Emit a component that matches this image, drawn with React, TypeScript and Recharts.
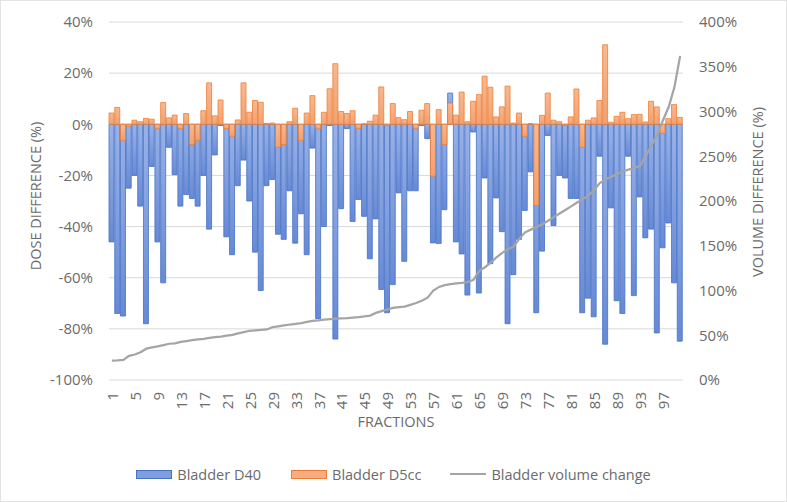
import React from 'react';
import { ComposedChart, Bar, Line, XAxis, YAxis, CartesianGrid, Legend, Label } from 'recharts';

// fraction numbers 1..100 (category labels)
const fractions = Array.from({ length: 100 }, (_, i) => String(i + 1));

// dose difference, %
const bladderD40 = [
  -46, -74, -75, -25, -20, -32, -78, -16.5, -46, -62,
  -9, -19.7, -32, -27.5, -29, -32, -20, -41, -12, -0.5,
  -44, -51, -24, -14, -30, -50, -65, -24, -21.6, -43,
  -45, -26, -46.5, -35, -51, -9.3, -76, -40, -0.5, -84,
  -33, -1.7, -38, -29.4, -36, -52.6, -37, -64.6, -73.7, -62.7,
  -26.8, -53.6, -26, -26, -0.5, -5.6, -46.4, -46.6, -33.4, 12.2,
  -46, -50.7, -66.8, -3, -66, -21, -54.5, -28.8, -42, -78,
  -58.8, -45, -33.7, -18.6, -73.7, -49.6, -4.4, -39.6, -20, -21,
  -29, -29, -73.7, -68, -75.3, -12.5, -86, -32.7, -69, -74,
  -12.5, -67, -28.4, -44.4, -41, -81.6, -48.3, -38.6, -62, -84.8,
];

const bladderD5cc = [
  4.4, 6.6, -6.3, -0.8, 1.6, 1.0, 2.3, 2.0, -1.7, 8.5,
  2.5, 3.6, -1.7, 4.2, -7.9, -6.3, 5.3, 16.2, 3.3, 9.5,
  -1.7, -4.7, 1.7, 16.2, 4.7, 9.3, 8.6, 0.3, 0.5, -9.0,
  -7.9, 1.0, 6.3, -6.3, 4.4, 11.2, -1.8, 4.7, 13.9, 23.7,
  5.0, 4.2, 5.3, -1.7, 0.2, 1.2, 3.6, 14.6, -0.5, 8.1,
  2.6, 1.8, 5.0, -1.7, 5.5, 8.1, -20.3, 5.7, -7.9, 8.3,
  3.6, 12.6, 1.0, 9.0, 11.6, 18.8, 14.5, 2.9, 6.8, 14.9,
  0.5, 4.4, -4.7, 0.3, -31.7, 3.5, 12.2, 1.6, 1.0, -0.5,
  2.9, 13.8, -9.0, 1.6, 2.5, 9.3, 31.1, 0.8, 3.1, 4.7,
  2.2, 3.8, 3.9, 0.9, 9.0, 6.8, -3.6, 2.2, 7.7, 2.7,
];

// volume difference, %
const volumeChange = [
  21.6, 21.8, 22.5, 27, 28.5, 31, 35, 36.5, 37.5, 39,
  40.5, 41, 42.5, 43.5, 44.5, 45.5, 46, 47, 48, 48.5,
  49.5, 50.5, 52, 53.5, 55, 55.5, 56, 56.5, 59, 60,
  61, 62, 62.6, 63.5, 65, 66, 66.5, 67.5, 68, 68.5,
  68.8, 69.2, 69.8, 70.3, 71, 72, 75, 77, 79, 80.5,
  81.5, 82, 84, 86, 88.5, 92, 100, 104, 106, 107,
  108, 108.5, 109.5, 112, 122, 126, 131, 137, 142, 146,
  149, 158, 165, 168, 171, 174, 178, 182, 186, 190,
  194, 198, 202, 206, 212, 220, 224, 227, 230, 233,
  235, 237, 239, 250, 262, 274, 290, 305, 327, 362,
];

const doseTicks = [-100, -80, -60, -40, -20, 0, 20, 40];
const volumeTicks = [0, 50, 100, 150, 200, 250, 300, 350, 400];

const data = fractions.map((f, i) => ({
  fraction: f,
  d40: bladderD40[i],
  d5cc: bladderD5cc[i],
  volume: volumeChange[i],
}));

const FONT = '"Open Sans", sans-serif';
const TEXT = '#6b6b6b';

const FractionTick = ({ x, y, payload }: any) => (
  <text
    x={x}
    y={y}
    dx={-10}
    transform={`rotate(-90, ${x}, ${y})`}
    textAnchor="end"
    dominantBaseline="central"
    fill={TEXT}
    fontSize={15}
    fontFamily={FONT}
  >
    {payload.value}
  </text>
);

const AxisTitle = ({ x, y, text }: { x: number; y: number; text: string }) => (
  <text
    x={x}
    y={y}
    transform={`rotate(-90, ${x}, ${y})`}
    textAnchor="middle"
    dominantBaseline="central"
    fill={TEXT}
    fontSize={14.5}
    fontFamily={FONT}
  >
    {text}
  </text>
);

const LegendContent = () => (
  <div
    style={{
      display: 'flex',
      justifyContent: 'center',
      alignItems: 'center',
      height: 24,
      fontFamily: FONT,
      fontSize: 14.5,
      color: TEXT,
    }}
  >
    <span style={{ display: 'flex', alignItems: 'center', marginRight: 30 }}>
      <span style={{ width: 34, height: 7, background: '#7f9ddf', border: '1px solid #4472c4', marginRight: 5 }} />
      Bladder D40
    </span>
    <span style={{ display: 'flex', alignItems: 'center', marginRight: 29 }}>
      <span style={{ width: 34, height: 7, background: '#f6ad84', border: '1px solid #ed7d31', marginRight: 5 }} />
      Bladder D5cc
    </span>
    <span style={{ display: 'flex', alignItems: 'center' }}>
      <span style={{ width: 36, height: 2, background: '#a5a5a5', marginRight: 5 }} />
      Bladder volume change
    </span>
  </div>
);

export default function App() {
  return (
    <div style={{ position: 'relative', width: 787, height: 502, background: '#fff' }}>
      <style>{'body{margin:0}'}</style>
      <ComposedChart
        width={787}
        height={502}
        data={data}
        margin={{ top: 22, right: 0, bottom: 16, left: 0 }}
      >
        <defs>
          <linearGradient id="blueFill" x1="0" y1="0" x2="0" y2="1">
            <stop offset="0%" stopColor="#9ab2e8" />
            <stop offset="100%" stopColor="#6789d6" />
          </linearGradient>
          <linearGradient id="orangeFill" x1="0" y1="0" x2="0" y2="1">
            <stop offset="0%" stopColor="#f8b891" />
            <stop offset="100%" stopColor="#f3a06f" />
          </linearGradient>
        </defs>
        <CartesianGrid vertical={false} stroke="#d9d9d9" xAxisId="a" yAxisId="dose" />
        <XAxis
          xAxisId="a"
          dataKey="fraction"
          interval={3}
          height={82}
          axisLine={false}
          tickLine={false}
          tickSize={0}
          tick={<FractionTick />}
        >
          <Label
            value="FRACTIONS"
            position="insideTop"
            offset={37}
            fill={TEXT}
            fontSize={14.5}
            fontFamily={FONT}
          />
        </XAxis>
        <XAxis xAxisId="b" dataKey="fraction" hide />
        <YAxis
          yAxisId="dose"
          domain={[-100, 40]}
          ticks={doseTicks}
          width={109}
          axisLine={false}
          tickLine={false}
          tickSize={0}
          tickMargin={16}
          tickFormatter={(v: number) => `${v}%`}
          tick={{ fill: TEXT, fontSize: 15, fontFamily: FONT }}
        >
          <Label content={() => <AxisTitle x={35} y={196} text="DOSE DIFFERENCE (%)" />} />
        </YAxis>
        <YAxis
          yAxisId="vol"
          orientation="right"
          domain={[0, 400]}
          ticks={volumeTicks}
          width={104}
          axisLine={false}
          tickLine={false}
          tickSize={0}
          tickMargin={16}
          tickFormatter={(v: number) => `${v}%`}
          tick={{ fill: TEXT, fontSize: 15, fontFamily: FONT, textAnchor: 'start' }}
        >
          <Label content={() => <AxisTitle x={757} y={192} text="VOLUME DIFFERENCE (%)" />} />
        </YAxis>
        <Legend verticalAlign="bottom" content={<LegendContent />} />
        <Bar
          xAxisId="a"
          yAxisId="dose"
          dataKey="d40"
          name="Bladder D40"
          fill="url(#blueFill)"
          stroke="#4472c4"
          strokeWidth={0.8}
          barSize={5}
          isAnimationActive={false}
        />
        <Bar
          xAxisId="b"
          yAxisId="dose"
          dataKey="d5cc"
          name="Bladder D5cc"
          fill="url(#orangeFill)"
          stroke="#ed7d31"
          strokeWidth={0.8}
          barSize={5}
          isAnimationActive={false}
        />
        <Line
          xAxisId="a"
          yAxisId="vol"
          dataKey="volume"
          name="Bladder volume change"
          type="linear"
          stroke="#a5a5a5"
          strokeWidth={2.25}
          dot={false}
          isAnimationActive={false}
        />
      </ComposedChart>
      <div
        style={{
          position: 'absolute',
          inset: 0,
          border: '1px solid #e3e3e3',
          pointerEvents: 'none',
        }}
      />
    </div>
  );
}
